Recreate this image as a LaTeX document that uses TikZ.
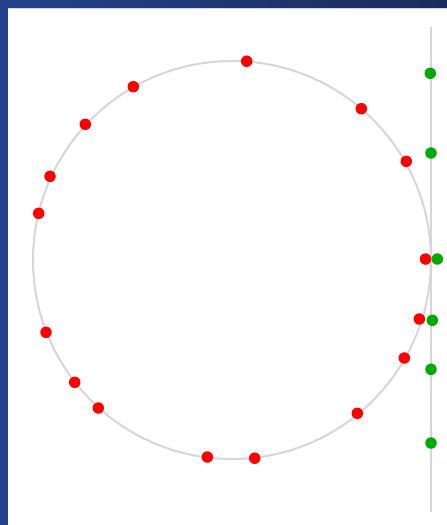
\documentclass[tikz,border=0pt]{standalone}
\usepackage{tikz}
\usetikzlibrary{positioning}
\definecolor{frameblue}{RGB}{36,66,140}
\definecolor{framenavy}{RGB}{27,43,92}
\definecolor{frameedge}{RGB}{205,212,228}
\definecolor{dotred}{RGB}{255,0,0}
\definecolor{dotgreen}{RGB}{0,170,0}
\definecolor{trackgray}{RGB}{214,214,214}

\begin{document}
\begin{tikzpicture}[x=1pt,y=-1pt,
  reddot/.style={circle,fill=dotred,inner sep=0pt,minimum size=11.5pt},
  greendot/.style={circle,fill=dotgreen,inner sep=0pt,minimum size=11.5pt},
  track/.style={draw=trackgray,line width=2pt}
]
  \useasboundingbox (0,0) rectangle (447,525);
  % window frame
  \shade[left color=frameblue,right color=framenavy] (0,0) rectangle (447,8);
  \fill[frameblue] (0,0) rectangle (8,525);
  \draw[frameedge,line width=0.8pt] (8,8.4) -- (447,8.4);

  % circle and vertical track
  \coordinate (centre) at (232,260);
  \draw[track] (centre) circle[radius=199pt];
  \coordinate (tracktop) at (431,27);
  \coordinate (trackbot) at (431,512);
  \draw[track] (tracktop) -- (trackbot);

  % points on the circle
  \foreach \name/\px/\py in {r1/246.7/61.2, r2/361.3/108.7, r3/406.3/161.3,
      r4/425.5/259, r5/419.3/319, r6/404.3/358, r7/357.3/413.3,
      r8/254.7/458.2, r9/207.3/457, r10/98.3/408, r11/74.7/382.3,
      r12/46/332.3, r13/38.7/213.3, r14/50/176.3, r15/85.3/124.3,
      r16/133.3/86.7}
    \node[reddot] (\name) at (\px,\py) {};

  % points on the track
  \foreach \name/\px/\py in {g1/430.3/73.3, g2/431/153, g3/437.3/259,
      g4/432.3/320.3, g5/431/369.3, g6/431/443}
    \node[greendot] (\name) at (\px,\py) {};
\end{tikzpicture}
\end{document}
